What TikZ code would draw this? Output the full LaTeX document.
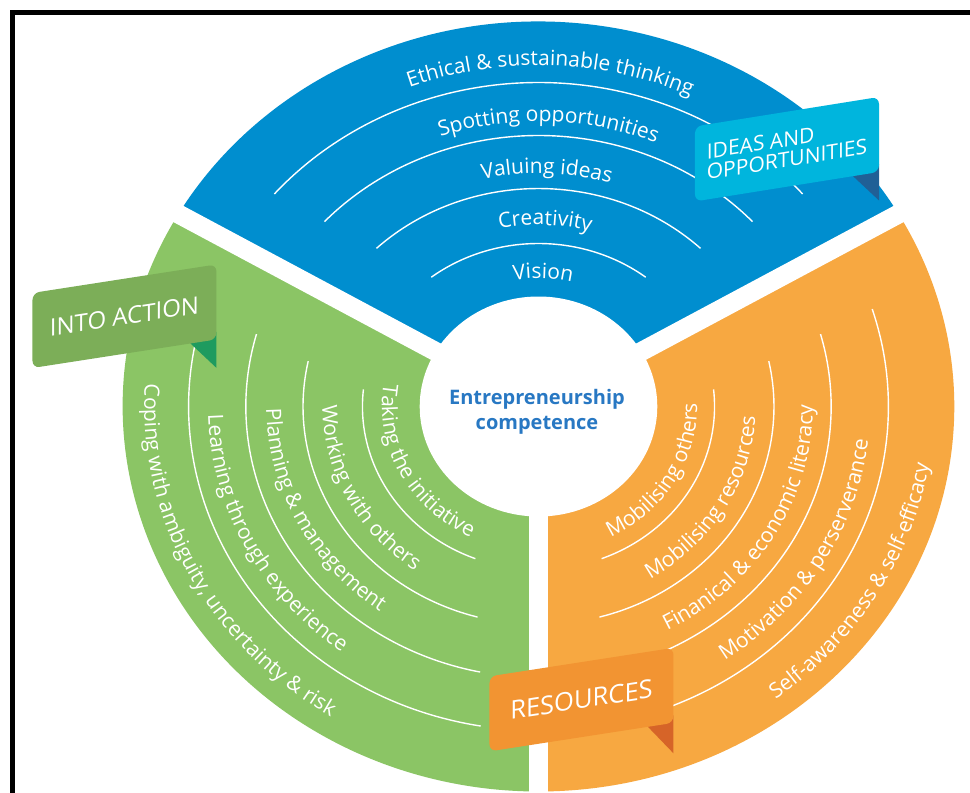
\documentclass[tikz,border=0pt]{standalone}
\usepackage{fontspec}
\setmainfont{Open Sans}
\usetikzlibrary{decorations.text}

\definecolor{secblue}{RGB}{0,142,207}
\definecolor{secgreen}{RGB}{139,197,101}
\definecolor{secorange}{RGB}{247,168,65}
\definecolor{labblue}{RGB}{0,181,221}
\definecolor{labgreen}{RGB}{124,174,88}
\definecolor{laborange}{RGB}{242,148,50}
\definecolor{tailblue}{RGB}{32,96,150}
\definecolor{tailgreen}{RGB}{30,155,95}
\definecolor{tailorange}{RGB}{214,100,40}
\definecolor{coreblue}{RGB}{40,120,195}

\newcommand\ringfont{\fontsize{21}{24}\selectfont\color{white}}
% horizontal stretch of the wheel
\def\sx{1.08}
% white separator arc: radius, start angle, end angle
\newcommand\ringarc[3]{\draw[separc] (#2:{\sx*#1} and #1) arc[start angle=#2, end angle=#3, x radius={\sx*#1}, y radius=#1];}
% text set along an arc: baseline radius, start angle, end angle, text
\newcommand\ringlabel[4]{\path[ringtext={#4}] (#2:{\sx*#1} and #1) arc[start angle=#2, end angle=#3, x radius={\sx*#1}, y radius=#1];}

\begin{document}
\begin{tikzpicture}[x=1pt,y=1pt,
  separc/.style={white, line width=1.4pt},
  gapline/.style={white, line width=19pt},
  ringtext/.style={decorate, decoration={text along path, text align=center, text={|\ringfont|#1}}},
  labelbox/.style={rounded corners=7pt, minimum width=184pt, minimum height=75pt, inner sep=0pt, text=white, transform shape},
  frameline/.style={black, line width=4.5pt, line join=miter}]
\useasboundingbox (-538.5,-386.5) rectangle (431.5,406.5);
\fill[white] (-538.5,-386.5) rectangle (431.5,406.5);

% the three sectors of the wheel
\def\Ro{385}
\fill[secblue] (0,0) -- (30:{\sx*\Ro} and \Ro) arc[start angle=30, end angle=150, x radius={\sx*\Ro}, y radius=\Ro] -- cycle;
\fill[secgreen] (0,0) -- (150:{\sx*\Ro} and \Ro) arc[start angle=150, end angle=270, x radius={\sx*\Ro}, y radius=\Ro] -- cycle;
\fill[secorange] (0,0) -- (270:{\sx*\Ro} and \Ro) arc[start angle=270, end angle=390, x radius={\sx*\Ro}, y radius=\Ro] -- cycle;

% gaps between the sectors
\coordinate (hub) at (0,0);
\coordinate (g1) at (30:{\sx*400} and 400);
\coordinate (g2) at (150:{\sx*400} and 400);
\coordinate (g3) at (270:{\sx*400} and 400);
\draw[gapline] (hub) -- (g1);
\draw[gapline] (hub) -- (g2);
\draw[gapline] (hub) -- (g3);

% centre disc
\fill[white] (0,0) ellipse[x radius={\sx*110}, y radius=110];
\node[font=\fontsize{20}{25}\selectfont\bfseries, text=coreblue, align=center] (core) at (-1.5,-5) {Entrepreneurship\\competence};

% separator arcs
\ringarc{163}{52.5}{127.5}
\ringarc{218}{46.5}{133.5}
\ringarc{271}{43}{137}
\ringarc{324}{41}{139}

\ringarc{163}{174}{249}
\ringarc{218}{168}{255}
\ringarc{271}{164.5}{258.5}
\ringarc{324}{162.5}{260.5}

\ringarc{163}{291}{366}
\ringarc{218}{285}{372}
\ringarc{271}{281.5}{375.5}
\ringarc{324}{279.5}{377.5}

% ideas and opportunities
\ringlabel{128}{148}{28}{Vision}
\ringlabel{181.5}{148}{28}{Creativity}
\ringlabel{233}{148}{28}{Valuing ideas}
\ringlabel{285}{148}{28}{Spotting opportunities}
\ringlabel{341}{148}{28}{Ethical {\&} sustainable thinking}

% into action
\ringlabel{145}{149}{265}{Taking the initiative}
\ringlabel{200}{148.5}{264.5}{Working with others}
\ringlabel{252}{148.5}{264.5}{Planning {\&} management}
\ringlabel{306}{148.5}{264.5}{Learning through experience}
\ringlabel{365}{148.5}{264.5}{Coping with ambiguity, uncertainty {\&} risk}

% resources
\ringlabel{147}{272}{388}{Mobilising others}
\ringlabel{201}{272}{388}{Mobilising resources}
\ringlabel{254}{272}{388}{Finanical {\&} economic literacy}
\ringlabel{307}{272}{388}{Motivation {\&} perserverance}
\ringlabel{366}{272}{388}{Self-awareness {\&} self-efficacy}

% section tags
\begin{scope}[shift={(-414,90.3)}, yslant=0.155]
  \fill[tailgreen] (66,-37.5) -- (92,-66) -- (92,-30) -- (66,-30) -- cycle;
  \node[labelbox, fill=labgreen, font=\fontsize{24}{24}\selectfont] (tagaction) at (0,0) {INTO ACTION};
\end{scope}

\begin{scope}[shift={(248.5,257.3)}, yslant=0.16]
  \fill[tailblue] (66,-37.5) -- (92,-66) -- (92,-30) -- (66,-30) -- cycle;
  \node[labelbox, fill=labblue, align=left, font=\fontsize{21}{20.5}\selectfont] (tagideas) at (0,0) {IDEAS AND\\OPPORTUNITIES};
\end{scope}

\begin{scope}[shift={(43,-293.1)}, yslant=0.155]
  \fill[tailorange] (66,-37) -- (92,-68) -- (92,-30) -- (66,-30) -- cycle;
  \node[labelbox, fill=laborange, font=\fontsize{25.5}{25.5}\selectfont] (tagres) at (0,0) {RESOURCES};
\end{scope}

% frame
\draw[frameline] (-526,-400) -- (-526,394) -- (440,394);
\end{tikzpicture}
\end{document}
